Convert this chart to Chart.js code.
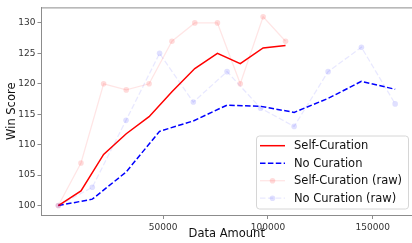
<!DOCTYPE html>
<html>
<head>
<meta charset="utf-8">
<script src="https://cdn.jsdelivr.net/npm/chart.js@4"></script>
<style>
  html, body { margin: 0; padding: 0; background: #fff; overflow: hidden; }
  #wrap { width: 416px; height: 243px; }
</style>
</head>
<body>
<div id="wrap"><canvas id="myChart"></canvas></div>
<script>
// ------------------ data ----------------------------------------
var selfX = [0, 10800, 21600, 32400, 43300, 54200, 65100, 75900, 86800, 97700, 108400];
var selfRaw = [100, 107, 120, 119, 120, 127, 130, 130, 120, 131, 127];
var selfSmooth = [100, 102.4, 108.4, 111.8, 114.6, 118.7, 122.5, 125.0, 123.3, 125.9, 126.3];

var noX = [0, 16200, 32300, 48300, 64400, 80500, 96500, 112500, 128700, 144600, 160700];
var noRaw = [100, 103, 114, 125, 117, 122, 116, 113, 122, 126, 116.7];
var noSmooth = [100, 101.05, 105.5, 112.2, 113.9, 116.5, 116.3, 115.3, 117.6, 120.4, 119.1];

var xTicks = [50000, 100000, 150000];
var yTicks = [100, 105, 110, 115, 120, 125, 130];

var FONT = "'DejaVu Sans', sans-serif";
var AXIS = '#8c8c8c';

function pts(xs, ys) {
  return xs.map(function (x, i) { return { x: x, y: ys[i] }; });
}

// top spine (chart.js only draws the axis side)
var framePlugin = {
  id: 'frame',
  afterDraw: function (chart) {
    var a = chart.chartArea, ctx = chart.ctx;
    ctx.save();
    ctx.strokeStyle = AXIS;
    ctx.lineWidth = 1;
    ctx.beginPath();
    ctx.moveTo(a.left, a.top + 0.5);
    ctx.lineTo(a.right, a.top + 0.5);
    ctx.stroke();
    ctx.restore();
  }
};

// legend box inside the plot, lower right
var legendPlugin = {
  id: 'boxLegend',
  afterDraw: function (chart) {
    var ctx = chart.ctx;
    var bx = 256.5, by = 136, bw = 152, bh = 73;
    ctx.save();
    ctx.beginPath();
    ctx.roundRect(bx, by, bw, bh, 3);
    ctx.fillStyle = 'rgba(255,255,255,0.85)';
    ctx.fill();
    ctx.strokeStyle = '#d6d6d6';
    ctx.lineWidth = 1;
    ctx.stroke();
    chart.data.datasets.forEach(function (ds, i) {
      var y = 145.7 + i * 17.5;
      ctx.beginPath();
      ctx.setLineDash(ds.borderDash || []);
      ctx.strokeStyle = ds.borderColor;
      ctx.lineWidth = ds.borderWidth;
      ctx.moveTo(260, y);
      ctx.lineTo(285, y);
      ctx.stroke();
      ctx.setLineDash([]);
      if (ds.pointRadius > 0) {
        ctx.beginPath();
        ctx.arc(272.5, y, ds.pointRadius, 0, Math.PI * 2);
        ctx.fillStyle = ds.pointBackgroundColor;
        ctx.fill();
      }
      ctx.fillStyle = '#111';
      ctx.font = '11.5px ' + FONT;
      ctx.textBaseline = 'middle';
      ctx.fillText(ds.label, 294, y + 0.5);
    });
    ctx.restore();
  }
};

var ctx = document.getElementById('myChart').getContext('2d');
var myChart = new Chart(ctx, {
  type: 'line',
  data: {
    datasets: [{
      label: 'Self-Curation',
      data: pts(selfX, selfSmooth),
      borderColor: 'rgb(255, 0, 0)',
      borderWidth: 1.5,
      pointRadius: 0,
      order: 3
    }, {
      label: 'No Curation',
      data: pts(noX, noSmooth),
      borderColor: 'rgb(0, 0, 255)',
      borderWidth: 1.5,
      borderDash: [5.5, 2.4],
      pointRadius: 0,
      order: 4
    }, {
      label: 'Self-Curation (raw)',
      data: pts(selfX, selfRaw),
      borderColor: 'rgba(255, 0, 0, 0.1)',
      borderWidth: 1.3,
      pointRadius: 2.8,
      pointBorderWidth: 0,
      pointBackgroundColor: 'rgba(255, 0, 0, 0.14)',
      order: 1
    }, {
      label: 'No Curation (raw)',
      data: pts(noX, noRaw),
      borderColor: 'rgba(0, 0, 255, 0.09)',
      borderWidth: 1.3,
      borderDash: [5.5, 2.4],
      pointRadius: 2.8,
      pointBorderWidth: 0,
      pointBackgroundColor: 'rgba(0, 0, 255, 0.12)',
      order: 2
    }]
  },
  options: {
    responsive: true,
    maintainAspectRatio: false,
    animation: false,
    layout: { padding: { top: 1, right: 1.3, left: 0, bottom: 0 } },
    plugins: {
      legend: { display: false },
      tooltip: { enabled: false }
    },
    scales: {
      x: {
        type: 'linear',
        min: -8035,
        max: 168735,
        afterBuildTicks: function (s) { s.ticks = xTicks.map(function (v) { return { value: v }; }); },
        afterFit: function (s) { s.height = 28; },
        grid: { drawOnChartArea: false, tickLength: 4, tickColor: AXIS },
        border: { color: AXIS, width: 1 },
        ticks: {
          color: '#333',
          padding: 3,
          maxRotation: 0,
          font: { family: FONT, size: 9 },
          callback: function (v) { return String(v); }
        },
        title: {
          display: true,
          text: 'Data Amount',
          color: '#111',
          padding: { top: 0, bottom: 2 },
          font: { family: FONT, size: 11.5 }
        }
      },
      y: {
        min: 98.45,
        max: 132.55,
        afterBuildTicks: function (s) { s.ticks = yTicks.map(function (v) { return { value: v }; }); },
        afterFit: function (s) { s.width = 41.5; },
        grid: { drawOnChartArea: false, tickLength: 4, tickColor: AXIS },
        border: { color: AXIS, width: 1 },
        ticks: {
          color: '#333',
          padding: 2,
          font: { family: FONT, size: 9 }
        },
        title: {
          display: true,
          text: 'Win Score',
          color: '#111',
          padding: { top: 5, bottom: 0 },
          font: { family: FONT, size: 11.5 }
        }
      }
    }
  },
  plugins: [framePlugin, legendPlugin]
});
</script>
</body>
</html>
